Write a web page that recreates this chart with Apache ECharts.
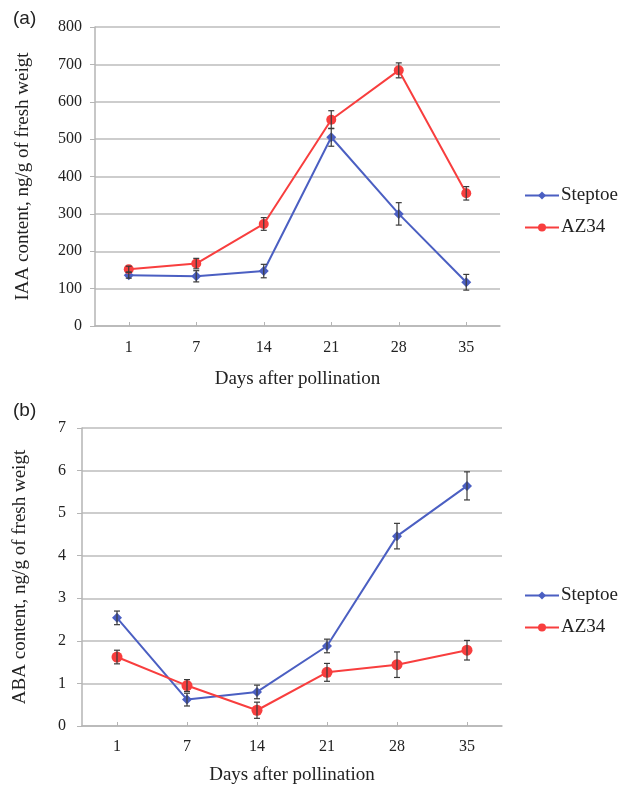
<!DOCTYPE html>
<html>
<head>
<meta charset="utf-8">
<script src="https://cdn.jsdelivr.net/npm/echarts@6/dist/echarts.min.js"></script>
<style>
  html, body { margin: 0; padding: 0; background: #fff; }
  #chart { width: 625px; height: 786px; }
</style>
</head>
<body>
<div id="chart"></div>
<script>
// days after pollination
var days = ["1", "7", "14", "21", "28", "35"];

// (a) IAA content, ng/g of fresh weight
var iaaSteptoe = [136, 133, 147, 505, 300, 117];
var iaaSteptoeErr = [8, 15, 18, 24, 30, 21];
var iaaAZ34 = [152, 167, 273, 552, 684, 355];
var iaaAZ34Err = [8, 14, 17, 24, 20, 18];

// (b) ABA content, ng/g of fresh weight
var abaSteptoe = [2.54, 0.62, 0.8, 1.88, 4.46, 5.64];
var abaSteptoeErr = [0.16, 0.15, 0.16, 0.16, 0.3, 0.33];
var abaAZ34 = [1.62, 0.95, 0.37, 1.26, 1.44, 1.78];
var abaAZ34Err = [0.16, 0.14, 0.19, 0.21, 0.3, 0.23];

var blue = "#4b5fc2";
var red = "#f83e3e";
var serif = "'Liberation Serif', 'Times New Roman', serif";

function errData(vals, errs) {
  return vals.map(function (v, i) { return [i, v - errs[i], v + errs[i]]; });
}

function errSeries(vals, errs, idx) {
  return {
    type: "custom",
    xAxisIndex: idx,
    yAxisIndex: idx,
    z: 5,
    silent: true,
    data: errData(vals, errs),
    encode: { x: 0, y: [1, 2] },
    renderItem: function (params, api) {
      var lo = api.coord([api.value(0), api.value(1)]);
      var hi = api.coord([api.value(0), api.value(2)]);
      var w = 3;
      var st = { stroke: "#3a3a3a", lineWidth: 1.2 };
      return {
        type: "group",
        children: [
          { type: "line", shape: { x1: lo[0], y1: lo[1], x2: hi[0], y2: hi[1] }, style: st },
          { type: "line", shape: { x1: lo[0] - w, y1: lo[1], x2: lo[0] + w, y2: lo[1] }, style: st },
          { type: "line", shape: { x1: hi[0] - w, y1: hi[1], x2: hi[0] + w, y2: hi[1] }, style: st }
        ]
      };
    }
  };
}

function lineSeries(name, vals, idx, color, symbol, size) {
  return {
    name: name,
    type: "line",
    xAxisIndex: idx,
    yAxisIndex: idx,
    data: vals,
    symbol: symbol,
    symbolSize: size,
    lineStyle: { color: color, width: 2 },
    itemStyle: { color: color },
    z: 3
  };
}

function xAxis(idx, labelMargin, nameGap) {
  return {
    type: "category",
    gridIndex: idx,
    data: days,
    name: "Days after pollination",
    nameLocation: "middle",
    nameGap: nameGap,
    nameTextStyle: { fontFamily: serif, fontSize: 19, color: "#222" },
    axisLine: { lineStyle: { color: "#b5b5b5", width: 1.5 } },
    axisTick: { show: true, inside: true, alignWithLabel: true, length: 4, lineStyle: { color: "#b5b5b5" } },
    axisLabel: { fontFamily: serif, fontSize: 16, color: "#222", margin: labelMargin }
  };
}

function yAxis(idx, name, max, interval, labelMargin, nameGap) {
  return {
    type: "value",
    gridIndex: idx,
    min: 0,
    max: max,
    interval: interval,
    name: name,
    nameLocation: "middle",
    nameGap: nameGap,
    nameTextStyle: { fontFamily: serif, fontSize: 19, color: "#222" },
    axisLine: { show: true, lineStyle: { color: "#b5b5b5", width: 1.5 } },
    axisTick: { show: true, length: 5, lineStyle: { color: "#b5b5b5" } },
    axisLabel: { fontFamily: serif, fontSize: 16, color: "#222", margin: labelMargin },
    splitLine: { lineStyle: { color: "#bdbdbd", width: 1.5 } }
  };
}

function legend(top) {
  return {
    data: ["Steptoe", "AZ34"],
    orient: "vertical",
    left: 519,
    top: top,
    itemWidth: 34,
    itemHeight: 10,
    itemGap: 13,
    textStyle: { fontFamily: serif, fontSize: 19, color: "#222", padding: [0, 0, 0, -3] }
  };
}

var chart = echarts.init(document.getElementById("chart"), null, { renderer: "canvas" });
chart.setOption({
  animation: false,
  backgroundColor: "#fff",
  title: [
    { text: "(a)", left: 8, top: 4, textStyle: { fontFamily: "'Liberation Sans', Arial, sans-serif", fontSize: 19, fontWeight: "normal", color: "#222" } },
    { text: "(b)", left: 8, top: 396, textStyle: { fontFamily: "'Liberation Sans', Arial, sans-serif", fontSize: 19, fontWeight: "normal", color: "#222" } }
  ],
  legend: [legend(181), legend(581)],
  grid: [
    { left: 95, right: 125, top: 27, bottom: 460 },
    { left: 82, right: 123, top: 428, bottom: 59 }
  ],
  xAxis: [xAxis(0, 14, 44), xAxis(1, 13, 40)],
  yAxis: [
    yAxis(0, "IAA content, ng/g of fresh weigt", 800, 100, 13, 62),
    yAxis(1, "ABA content, ng/g of fresh weigt", 7, 1, 16, 52)
  ],
  series: [
    lineSeries("Steptoe", iaaSteptoe, 0, blue, "diamond", 10),
    lineSeries("AZ34", iaaAZ34, 0, red, "circle", 10),
    errSeries(iaaSteptoe, iaaSteptoeErr, 0),
    errSeries(iaaAZ34, iaaAZ34Err, 0),
    lineSeries("Steptoe", abaSteptoe, 1, blue, "diamond", 10),
    lineSeries("AZ34", abaAZ34, 1, red, "circle", 11),
    errSeries(abaSteptoe, abaSteptoeErr, 1),
    errSeries(abaAZ34, abaAZ34Err, 1)
  ]
});
</script>
</body>
</html>
